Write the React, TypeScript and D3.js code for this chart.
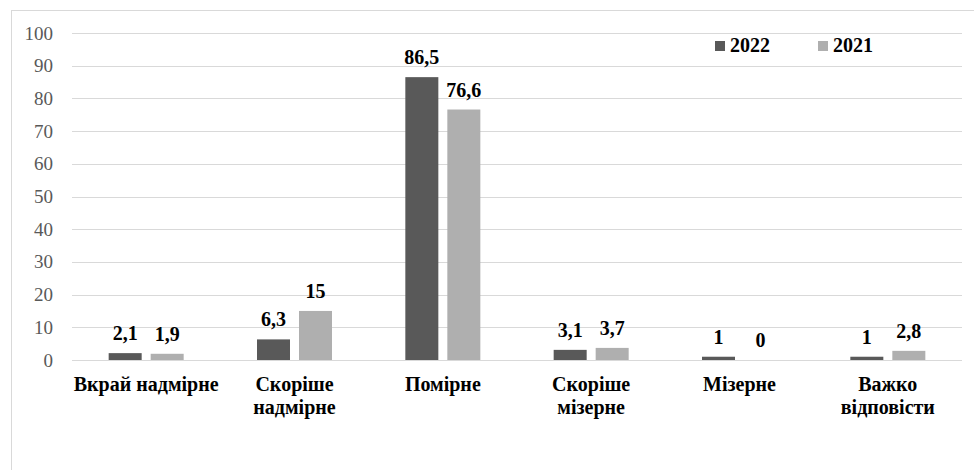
import React, { useEffect, useRef } from 'react';
import * as d3 from 'd3';

const categories = [
  ['Вкрай надмірне'],
  ['Скоріше', 'надмірне'],
  ['Помірне'],
  ['Скоріше', 'мізерне'],
  ['Мізерне'],
  ['Важко', 'відповісти'],
];
const series = ['2022', '2021'];
const values2022 = [2.1, 6.3, 86.5, 3.1, 1, 1];
const values2021 = [1.9, 15, 76.6, 3.7, 0, 2.8];
const yTicks = [0, 10, 20, 30, 40, 50, 60, 70, 80, 90, 100];

const colors = ['#595959', '#afafaf'];
const fmt = (v: number) => String(v).replace('.', ',');

const App: React.FC = () => {
  const ref = useRef<SVGSVGElement>(null);

  useEffect(() => {
    if (!ref.current) return;
    const svg = d3.select(ref.current);
    svg.selectAll('*').remove();

    const width = 974;
    const height = 470;
    const margin = { top: 33, right: 12, bottom: 110, left: 72 };

    // chart frame
    svg.append('rect')
      .attr('x', 11.5)
      .attr('y', 10.5)
      .attr('width', width + 20)
      .attr('height', height + 20)
      .attr('fill', '#fff')
      .attr('stroke', '#d9d9d9');

    const x = d3.scaleBand<number>()
      .domain(d3.range(categories.length))
      .range([margin.left, width - margin.right]);

    const y = d3.scaleLinear()
      .domain([0, 100])
      .range([height - margin.bottom, margin.top]);

    // grid
    svg.append('g')
      .selectAll('line')
      .data(yTicks)
      .join('line')
      .attr('x1', margin.left)
      .attr('x2', width - margin.right)
      .attr('y1', d => Math.round(y(d)) + 0.5)
      .attr('y2', d => Math.round(y(d)) + 0.5)
      .attr('stroke', '#d9d9d9')
      .attr('stroke-width', 1);

    // y axis labels
    svg.append('g')
      .selectAll('text')
      .data(yTicks)
      .join('text')
      .attr('x', 53)
      .attr('y', d => y(d) + 6.5)
      .attr('text-anchor', 'end')
      .attr('font-size', 19)
      .attr('fill', '#595959')
      .text(d => d);

    const barW = 33;
    const gap = 9;
    const all = [values2022, values2021];

    all.forEach((vals, si) => {
      const off = si === 0 ? -gap / 2 - barW : gap / 2;
      const g = svg.append('g');
      g.selectAll('rect')
        .data(vals)
        .join('rect')
        .attr('x', (_, i) => x(i)! + x.bandwidth() / 2 + off)
        .attr('y', d => y(d))
        .attr('width', barW)
        .attr('height', d => y(0) - y(d))
        .attr('fill', colors[si]);
      g.selectAll('text')
        .data(vals)
        .join('text')
        .attr('x', (_, i) => x(i)! + x.bandwidth() / 2 + off + barW / 2)
        .attr('y', d => y(d) - 13)
        .attr('text-anchor', 'middle')
        .attr('font-weight', 'bold')
        .attr('font-size', 20)
        .attr('fill', '#000')
        .text(d => fmt(d));
    });

    // category labels
    const cat = svg.append('g');
    categories.forEach((lines, i) => {
      const t = cat.append('text')
        .attr('x', x(i)! + x.bandwidth() / 2)
        .attr('y', 391)
        .attr('text-anchor', 'middle')
        .attr('font-weight', 'bold')
        .attr('font-size', 20)
        .attr('fill', '#000');
      lines.forEach((l, li) => {
        t.append('tspan')
          .attr('x', x(i)! + x.bandwidth() / 2)
          .attr('dy', li === 0 ? 0 : 23)
          .text(l);
      });
    });

    // legend
    const legendX = [715, 818];
    series.forEach((s, i) => {
      svg.append('rect')
        .attr('x', legendX[i])
        .attr('y', 41)
        .attr('width', 10)
        .attr('height', 10)
        .attr('fill', colors[i]);
      svg.append('text')
        .attr('x', legendX[i] + 15)
        .attr('y', 52)
        .attr('font-weight', 'bold')
        .attr('font-size', 20)
        .attr('fill', '#000')
        .text(s);
    });
  }, []);

  return (
    <div style={{ position: 'absolute', left: 0, top: 0, width: 974, height: 470, overflow: 'hidden' }}>
      <svg ref={ref} width={974} height={470} style={{ display: 'block', fontFamily: "'Liberation Serif'" }} />
    </div>
  );
};

export default App;
